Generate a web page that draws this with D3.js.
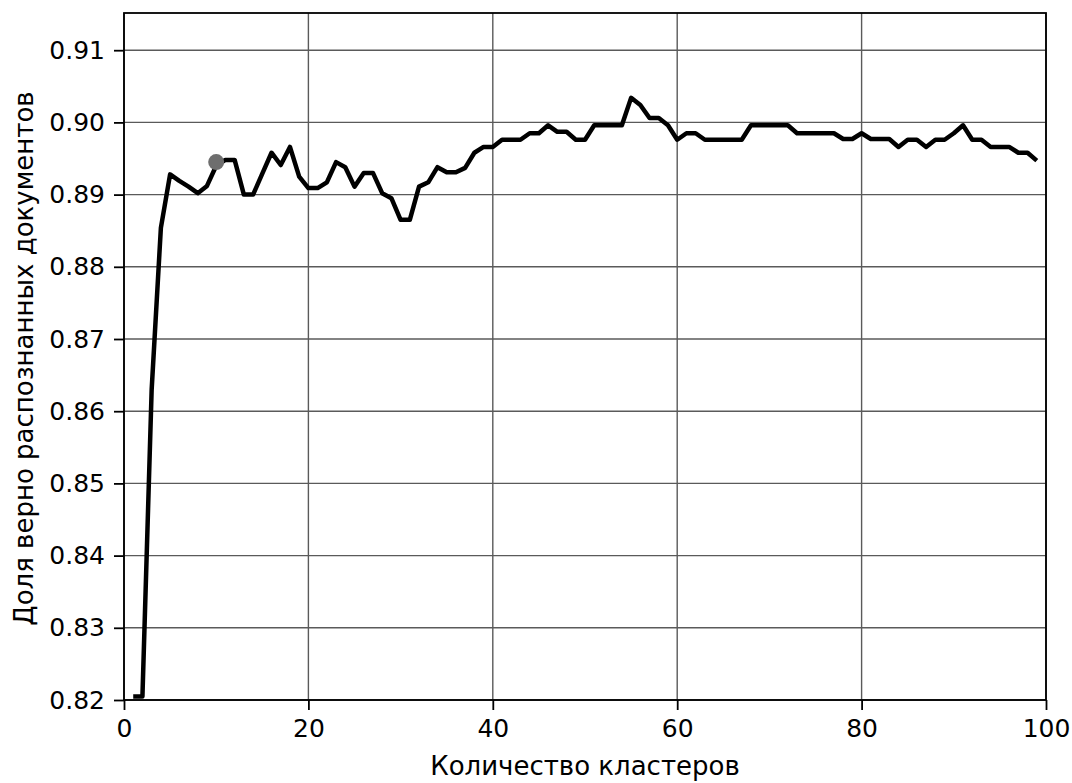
<!DOCTYPE html>
<html>
  <head>
    <meta charset="utf-8">
    <title>Доля верно распознанных документов</title>
    <script src="https://cdn.jsdelivr.net/npm/d3@7"></script>
    <style>
      body { margin: 0; background: #fff; }
      svg text { font-family: "DejaVu Sans", sans-serif; fill: #000; }
      .tick text { font-size: 25px; }
      .axisLabel { font-size: 26px; }
    </style>
  </head>
  <body>
    <svg id="chart" width="1072" height="783"></svg>

    <script>
      // data
      clusters = d3.range(1, 100);
      accuracy = [
        0.8205, 0.8205, 0.8630, 0.8854, 0.8928, 0.8919, 0.8911, 0.8902, 0.8912, 0.8940,
        0.8948, 0.8948, 0.8900, 0.8900, 0.8929, 0.8958, 0.8941, 0.8966, 0.8925, 0.8909,
        0.8909, 0.8917, 0.8945, 0.8938, 0.8911, 0.8930, 0.8930, 0.8902, 0.8895, 0.8865,
        0.8865, 0.8911, 0.8917, 0.8938, 0.8931, 0.8931, 0.8937, 0.8958, 0.8966, 0.8966,
        0.8976, 0.8976, 0.8976, 0.8985, 0.8985, 0.8996, 0.8987, 0.8987, 0.8976, 0.8976,
        0.8996, 0.8996, 0.8996, 0.8996, 0.9034, 0.9024, 0.9006, 0.9006, 0.8996, 0.8976,
        0.8985, 0.8985, 0.8976, 0.8976, 0.8976, 0.8976, 0.8976, 0.8996, 0.8996, 0.8996,
        0.8996, 0.8996, 0.8985, 0.8985, 0.8985, 0.8985, 0.8985, 0.8977, 0.8977, 0.8985,
        0.8977, 0.8977, 0.8977, 0.8966, 0.8976, 0.8976, 0.8966, 0.8976, 0.8976, 0.8985,
        0.8996, 0.8976, 0.8976, 0.8966, 0.8966, 0.8966, 0.8958, 0.8958, 0.8947
      ];
      highlight = [{ x: 10, y: 0.8945 }];
      xTicks = [0, 20, 40, 60, 80, 100];
      yTicks = [0.82, 0.83, 0.84, 0.85, 0.86, 0.87, 0.88, 0.89, 0.90, 0.91];

      // layout
      margin = { top: 13, right: 26, bottom: 83, left: 124 };
      svg = d3.select("#chart");
      width = +svg.attr("width") - margin.left - margin.right;
      height = +svg.attr("height") - margin.top - margin.bottom;

      x = d3.scaleLinear()
        .domain([0, 100])
        .range([0, width]);
      y = d3.scaleLinear()
        .domain([0.82, 0.82 + 0.01 * height / 72.2])
        .range([height, 0]);

      g = svg.append("g")
        .attr("transform", "translate(" + margin.left + "," + margin.top + ")");

      // grid
      g.append("g")
        .selectAll("line")
        .data(xTicks)
        .join("line")
          .attr("x1", d => x(d))
          .attr("x2", d => x(d))
          .attr("y1", 0)
          .attr("y2", height)
          .attr("stroke", "#5a5a5a")
          .attr("stroke-width", 1.4);
      g.append("g")
        .selectAll("line")
        .data(yTicks)
        .join("line")
          .attr("x1", 0)
          .attr("x2", width)
          .attr("y1", d => y(d))
          .attr("y2", d => y(d))
          .attr("stroke", "#5a5a5a")
          .attr("stroke-width", 1.4);

      // axes
      xAxis = d3.axisBottom(x)
        .tickValues(xTicks)
        .tickSize(10)
        .tickSizeOuter(0)
        .tickPadding(9)
        .tickFormat(d3.format("d"));
      yAxis = d3.axisLeft(y)
        .tickValues(yTicks)
        .tickSize(10)
        .tickSizeOuter(0)
        .tickPadding(9)
        .tickFormat(d3.format(".2f"));

      g.append("g")
        .attr("transform", "translate(0," + height + ")")
        .call(xAxis)
        .attr("font-family", null)
        .attr("font-size", null)
        .call(a => a.select(".domain").remove())
        .call(a => a.selectAll(".tick line").attr("stroke-width", 1.8));
      g.append("g")
        .call(yAxis)
        .attr("font-family", null)
        .attr("font-size", null)
        .call(a => a.select(".domain").remove())
        .call(a => a.selectAll(".tick line").attr("stroke-width", 1.8));

      // line
      line = d3.line()
        .x((d, i) => x(clusters[i]))
        .y(d => y(d));
      g.append("path")
        .datum(accuracy)
        .attr("fill", "none")
        .attr("stroke", "#000")
        .attr("stroke-width", 4.5)
        .attr("stroke-linejoin", "round")
        .attr("d", line);

      // highlighted point
      g.selectAll("circle")
        .data(highlight)
        .join("circle")
          .attr("cx", d => x(d.x))
          .attr("cy", d => y(d.y))
          .attr("r", 8)
          .attr("fill", "#6e6e6e");

      // frame
      g.append("rect")
        .attr("width", width)
        .attr("height", height)
        .attr("fill", "none")
        .attr("stroke", "#000")
        .attr("stroke-width", 1.8);

      // labels
      svg.append("text")
        .attr("class", "axisLabel")
        .attr("text-anchor", "middle")
        .attr("x", margin.left + width / 2)
        .attr("y", 775)
        .text("Количество кластеров");
      svg.append("text")
        .attr("class", "axisLabel")
        .attr("text-anchor", "middle")
        .attr("transform", "translate(33," + (margin.top + height / 2 + 2) + ") rotate(-90)")
        .text("Доля верно распознанных документов");
    </script>
  </body>
</html>
